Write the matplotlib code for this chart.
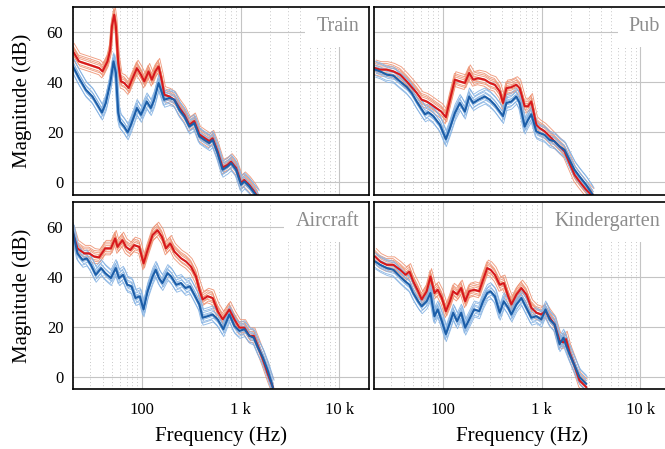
import numpy as np
import matplotlib
matplotlib.use('Agg')
import matplotlib.pyplot as plt
from matplotlib.ticker import FixedLocator, FixedFormatter, LogLocator, NullFormatter

plt.rcParams['font.family'] = ['Liberation Serif', 'DejaVu Serif']

# ---- Train ----
f_train_red = [20, 23, 29, 37, 39.8, 44.7, 47.7, 49.6, 52.3, 54.4, 57.5, 61.2, 66.1, 73.2, 79.2, 89, 97.7,
               105.5, 116.7, 126, 136.5, 147.5, 159.6, 168.4, 189.5, 213, 239, 269, 302, 339, 381, 428, 481,
               520, 584, 656, 737, 800, 899, 1010, 1090, 1225, 1375, 1500]
db_train_red = [52.3, 48.3, 47, 45.6, 44.3, 48.3, 53, 62.3, 66.9, 62.3, 47.6, 40.3, 39.7, 37.7, 41, 45.6, 43,
                40.3, 44.3, 41, 44.3, 46.3, 40.3, 35, 34.3, 33, 29.8, 27, 23, 24.5, 19.2, 17.8, 16.5,
                17.6, 12.4, 6, 7, 8.3, 5.8, -0.2, 1, -1, -3.6, -6]
f_train_blue = [20, 23, 27, 31.5, 37, 39.3, 43, 47.7, 51.5, 54.4, 57.5, 60, 66, 71.6, 77.3, 89, 97.7, 112,
                123, 133, 147.5, 158, 168, 189.5, 213, 239, 269, 302, 339, 381, 428, 481, 520, 584, 656,
                737, 800, 899, 1010, 1090, 1225, 1375, 1500]
db_train_blue = [46.3, 41.7, 37, 34.3, 29.7, 27.9, 31.7, 39.7, 48.3, 43.7, 27.7, 24.3, 22.3, 20, 23, 29.7, 27,
                 32.3, 29.7, 33, 39.7, 36.3, 33, 33.7, 33, 29, 26.3, 22.3, 23.7, 18.4, 17, 15.7, 17, 11.7, 5.1,
                 6.4, 7.7, 5.1, -0.9, 0.4, -1.6, -4.2, -6]

# ---- Pub ----
f_pub_red = [20.6, 23.1, 27, 31.5, 36.8, 43, 48.3, 54.2, 60.9, 68.4, 76.9, 86, 96, 107, 117.7, 132, 148.6,
             166.8, 184.6, 202.5, 227.6, 265.7, 298.3, 335, 376.5, 406.6, 439.5, 494, 554.6, 599.6, 673,
             727.5, 787, 883, 955, 1072, 1205, 1353, 1520, 1706, 1917, 2153, 2419, 2826, 3300]
db_pub_red = [45.6, 45, 45, 44.3, 43, 40.3, 38, 35.7, 33, 32.3, 31, 29.6, 28.3, 26, 33, 41, 40.3,
              39.7, 43.7, 41, 41.6, 41, 39.7, 39, 36.3, 31.7, 37.6, 38, 39, 37.6, 30.4,
              30.4, 32.3, 23, 21.7, 20.4, 18.4, 16.4, 14.4, 12.4, 7.7, 3.1, 0.4, -2.9, -5.6]
f_pub_blue = [20.6, 23.1, 27, 31.5, 36.8, 43, 48.3, 54.2, 60.9, 65.8, 71.1, 79.8, 93.3, 107, 117.7, 132,
              148.6, 166.8, 184.6, 202.5, 227.6, 265.7, 298.3, 335, 376.5, 406.6, 439.5, 494, 554.6, 599.6,
              673, 727.5, 787, 883, 955, 1072, 1205, 1353, 1520, 1706, 1917, 2153, 2419, 2826, 3300]
db_pub_blue = [45, 44.3, 43, 42.6, 40.3, 38.1, 35.7, 32.3, 29.2, 27.2, 28, 26.5, 23, 17.3, 21.7, 27.7,
               31.7, 28.3, 34.3, 31.7, 33, 34.3, 33, 31, 28.3, 26.5, 31.7, 32.3, 34.3, 31.7,
               22.3, 25, 27.2, 20.4, 19.7, 19, 17, 16.4, 14.4, 13, 9, 5.1, 2.4, -0.9, -4.9]

# ---- Aircraft ----
f_air_red = [20, 22.2, 26, 29.2, 32.8, 36.8, 42.4, 48.4, 53.5, 56.5, 63.5, 68.8, 76.1, 83.5, 93.9, 103.8,
             114, 128, 144, 159.6, 175, 193.8, 213, 249, 280, 314, 353, 382, 412, 463, 521, 586, 658, 769,
             865, 972, 1093, 1228, 1358, 1492, 1676, 1884, 2117]
db_air_red = [57.4, 51.4, 49.4, 49.4, 48.1, 47.8, 51.4, 51.4, 55.4, 52, 54.7, 52, 50.7, 52.7, 52, 45.4,
              50.7, 56.7, 58.7, 56, 51.4, 53.4, 50.1, 47.4, 46.1, 44.1, 40.1, 34.8, 30.9, 32.2, 31.5, 26.2,
              22.9, 26.9, 22.9, 19.6, 19.6, 16.3, 16.3, 12.3, 7, 1.1, -4.2]
f_air_blue = [20, 22.2, 25, 27.6, 30.4, 34, 38.6, 42.4, 48.4, 54.3, 58.5, 64.4, 71, 78.4, 86, 95, 103.8,
              114, 128, 138, 149, 161, 182, 198, 223, 249, 276, 306, 339, 382, 412, 463, 521, 586, 668,
              769, 865, 972, 1093, 1228, 1358, 1492, 1676, 1884, 2117]
db_air_blue = [58, 49.4, 46.8, 47.4, 44.8, 40.8, 43.5, 41.5, 39.5, 43.5, 39.5, 40.8, 36.8, 36.2, 31.5, 32.2,
               26.9, 34.2, 40.1, 42.8, 39.5, 37.5, 41.5, 40.1, 36.8, 37.5, 35.5, 36.2, 32.9, 28.9, 23.6,
               24.2, 24.9, 22.9, 19, 24.9, 20.3, 18.3, 19, 16.3, 15.6, 11.7, 7.7, 2.4, -4.2]

# ---- Kindergarten ----
f_kg = [20.6, 23.1, 27, 31.5, 36.8, 41.7, 45.8, 50, 56, 60.9, 68.4, 74.7, 82, 88.5, 97.5, 107, 117.7, 127,
        139, 153, 168, 184.6, 207, 233, 255, 281, 304, 336, 376, 414, 458, 494, 555, 624, 700, 787, 883,
        992, 1095, 1205, 1353, 1520, 1666, 1770, 1917, 2153, 2419, 2826]
db_kg_red = [48.1, 46.1, 44.8, 44.8, 42.8, 40.8, 42.1, 38.1, 34.2, 30.9, 34.2, 40.1, 33.5, 34.8, 31.5, 26.2,
             30.2, 34.2, 32.9, 35.5, 30.2, 34.2, 34.8, 34.2, 38.8, 43.5, 42.8, 40.8, 36.8, 37.5, 32.2, 28.9,
             32.9, 35.5, 32.9, 27.6, 25.6, 24.9, 26.2, 23.6, 20.9, 14.3, 13.7, 15, 9.7, 4.4, -1.6, -4.2]
db_kg_blue = [46.1, 44.8, 43.5, 42.8, 40.1, 38.1, 36.8, 33.5, 30.2, 28.2, 30.2, 33.5, 24.2, 26.9, 22.2, 17,
              21.6, 25.6, 22.2, 25.6, 19.6, 22.9, 26.9, 26.2, 30.2, 33.5, 34.2, 32.2, 25.6, 30.2, 27.6, 24.9,
              28.9, 31.5, 27.6, 23.6, 24.2, 22.9, 26.9, 22.9, 20.9, 13, 15.6, 12.5, 9, 4.4, -0.2, -2.9]

# spread of the individual (thin) curves around the averaged ones
offs_red = [-2.6, -1.9, -1.2, -0.5, 0.4, 1.1, 1.8, 2.5, 3.2]
offs_blue = [-3.0, -2.2, -1.5, -0.8, -0.2, 0.5, 1.2, 1.9, 2.7, 3.4]
fshift_red = [0.985, 1.02, 0.995, 1.03, 0.975, 1.01, 1.0, 0.99, 1.025]
fshift_blue = [1.01, 0.98, 1.025, 0.995, 1.0, 0.97, 1.015, 0.99, 1.03, 1.005]

names = ['Train', 'Pub', 'Aircraft', 'Kindergarten']

RED = '#d7191c'
BLUE = '#1c5ea8'
RED_THIN = '#ee9272'
BLUE_THIN = '#86b3e3'

fig = plt.figure(figsize=(6.65, 4.49), dpi=100)
W = 296 / 665
boxes = [(73 / 665, 1 - 195 / 449, W, 188 / 449), (374 / 665, 1 - 195 / 449, W, 188 / 449),
         (73 / 665, 1 - 389 / 449, W, 187 / 449), (374 / 665, 1 - 389 / 449, W, 187 / 449)]

panels = [(f_train_red, db_train_red, f_train_blue, db_train_blue),
          (f_pub_red, db_pub_red, f_pub_blue, db_pub_blue),
          (f_air_red, db_air_red, f_air_blue, db_air_blue),
          (f_kg, db_kg_red, f_kg, db_kg_blue)]

for i, (box, name, (fr, dr, fb, db)) in enumerate(zip(boxes, names, panels)):
    ax = fig.add_axes(box)
    fr = np.array(fr); dr = np.array(dr); fb = np.array(fb); db = np.array(db)
    for o, s in zip(offs_red, fshift_red):
        ax.plot(fr * s, dr + o, color=RED_THIN, lw=0.65, alpha=0.9, zorder=2)
    for o, s in zip(offs_blue, fshift_blue):
        ax.plot(fb * s, db + o, color=BLUE_THIN, lw=0.65, alpha=0.9, zorder=2.1)
    ax.plot(fr, dr, color=RED, lw=1.5, zorder=2.3)
    ax.plot(fb, db, color=BLUE, lw=1.5, zorder=2.4)

    ax.set_xscale('log')
    ax.set_xlim(20, 20000)
    ax.set_ylim(-5, 70)
    ax.xaxis.set_major_locator(FixedLocator([100, 1000, 10000]))
    ax.xaxis.set_minor_locator(LogLocator(base=10, subs=np.arange(2, 10)))
    ax.xaxis.set_minor_formatter(NullFormatter())
    ax.set_yticks([0, 20, 40, 60])
    ax.grid(True, which='major', color='#c4c4c4', lw=0.8)
    ax.grid(True, which='minor', axis='x', color='#b5b5b5', lw=0.6, ls=(0, (1, 3)))
    ax.tick_params(which='both', length=0, labelsize=12)
    ax.tick_params(axis='x', pad=9)
    ax.tick_params(axis='y', pad=7)
    for sp in ax.spines.values():
        sp.set_linewidth(1.2)

    if i >= 2:
        ax.xaxis.set_major_formatter(FixedFormatter(['100', '1 k', '10 k']))
        ax.set_xlabel('Frequency (Hz)', fontsize=15)
        ax.xaxis.set_label_coords(0.5, -0.20)
    else:
        ax.set_xticklabels([])
    if i % 2 == 0:
        ax.set_ylabel('Magnitude (dB)', fontsize=15)
        ax.yaxis.set_label_coords(-0.14, 0.5)
    else:
        ax.set_yticklabels([])

    ax.text(1 - 10 / 296, 1 - 10 / 188, name, transform=ax.transAxes, ha='right', va='top',
            fontsize=14.5, color='#8c8c8c', zorder=1.8,
            bbox=dict(boxstyle='square,pad=0.55', facecolor='white', edgecolor='none'))

fig.savefig('out.png', dpi=100)
